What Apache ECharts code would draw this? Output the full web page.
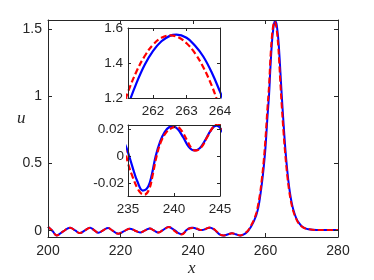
<!DOCTYPE html>
<html>
<head>
<meta charset="utf-8">
<script src="https://cdn.jsdelivr.net/npm/echarts@6/dist/echarts.min.js"></script>
<style>
html,body{margin:0;padding:0;background:#fff;}
#c{width:374px;height:280px;}
</style>
</head>
<body>
<div id="c"></div>
<script>
// Blue (solid) curve
const xBlue = [200,201.2,202.4,204.2,206.1,207.5,208.8,210.2,211.6,212.8,213.9,215.2,216.6,217.8,219.4,221,222.6,224,225.4,226.8,228.1,229.2,230.4,231.8,233.2,234.6,235,235.5,236,236.6,237.2,237.6,238,238.5,239,239.5,239.9,240.4,241,241.6,242.2,242.8,243.4,244,244.6,245,245.8,246.6,247.5,248.4,249.5,250.7,251.8,253,254,255,255.5,256,256.5,257,257.5,258,258.5,259,259.5,260,260.5,261,261.25,261.5,261.75,262,262.25,262.5,262.7,263,263.25,263.5,263.75,264,264.5,265,265.5,266,266.5,267,267.5,268,268.5,269,270,271,272,273,275,280];
const uBlue = [0.03,0.0,-0.035,-0.005,0.022,0.002,-0.018,0.002,0.022,0.003,-0.015,0.003,0.02,0.0,-0.022,-0.003,0.015,0.0,-0.013,0.002,0.017,0.002,-0.013,0.006,0.027,0.01,0.003,-0.008,-0.018,-0.025,-0.022,-0.013,0.0,0.011,0.018,0.0215,0.022,0.02,0.014,0.007,0.0044,0.006,0.012,0.019,0.0225,0.021,0.01,-0.01,-0.03,-0.036,-0.028,-0.02,-0.027,-0.036,-0.028,-0.008,0.01,0.03,0.055,0.085,0.12,0.17,0.25,0.35,0.47,0.62,0.83,1.02,1.158,1.284,1.39,1.469,1.524,1.555,1.562,1.544,1.5,1.437,1.347,1.236,1.0,0.79,0.6,0.45,0.33,0.24,0.175,0.128,0.092,0.066,0.033,0.017,0.01,0.007,0.005,0.005];
// Red (dashed) curve
const xRed = [200,201.2,202.4,204.2,206.1,207.5,208.8,210.2,211.6,212.8,213.9,215.2,216.6,217.8,219.4,221,222.6,224,225.4,226.8,228.1,229.2,230.4,231.8,233.4,234.4,235,235.5,236,236.4,236.8,237.3,237.7,238.1,238.6,239.2,239.8,240.3,240.8,241.4,241.9,242.4,243,243.6,244.2,244.7,245,245.8,246.6,247.5,248.5,249.6,250.8,251.9,253.1,254,255,255.5,256,256.5,257,257.5,258,258.5,259,259.5,260,260.5,261,261.25,261.5,261.75,262,262.25,262.51,262.75,263,263.25,263.5,263.75,264,264.5,265,265.5,266,266.5,267,267.5,268,268.5,269,270,271,272,273,275,280];
const uRed = [0.03,0.0,-0.035,-0.005,0.022,0.002,-0.018,0.002,0.022,0.003,-0.015,0.003,0.02,0.0,-0.022,-0.003,0.015,0.0,-0.013,0.002,0.017,0.002,-0.013,0.006,0.027,0.012,-0.005,-0.015,-0.023,-0.027,-0.028,-0.024,-0.013,0.0,0.011,0.018,0.021,0.0217,0.019,0.012,0.006,0.0042,0.007,0.014,0.021,0.024,0.023,0.012,-0.008,-0.029,-0.036,-0.028,-0.02,-0.027,-0.036,-0.025,-0.004,0.015,0.038,0.063,0.095,0.135,0.2,0.28,0.39,0.52,0.69,0.9,1.09,1.234,1.35,1.44,1.505,1.544,1.558,1.547,1.513,1.456,1.376,1.272,1.145,0.92,0.72,0.55,0.41,0.3,0.22,0.16,0.118,0.086,0.06,0.031,0.016,0.01,0.007,0.005,0.005];

// Tick values
const mainXTicks = [200,220,240,260,280];
const mainYTicks = [0,0.5,1,1.5];
const in1XTicks = [262,263,264];
const in1YTicks = [1.2,1.4,1.6];
const in2XTicks = [235,240,245];
const in2YTicks = [-0.02,0,0.02];

const blueData = xBlue.map((x,i)=>[x,uBlue[i]]);
const redData = xRed.map((x,i)=>[x,uRed[i]]);

const AX = '#262626';
const FONT = 'Liberation Sans';

function xAx(grid, min, max, ticks, pos, showLabel, fs, tl, z, margin){
  return {
    type:'value', gridIndex:grid, min:min, max:max, position:pos, z:z,
    axisLine:{show:true, onZero:false, lineStyle:{color:AX,width:1}},
    axisTick:{show:true, inside:true, length:tl, customValues:ticks, lineStyle:{color:AX}},
    axisLabel:{show:showLabel, customValues:ticks, color:AX, fontFamily:FONT, fontSize:fs, margin:margin,
      formatter:(v)=>String(+v.toFixed(2))},
    splitLine:{show:false}
  };
}
function yAx(grid, min, max, ticks, pos, showLabel, fs, tl, z, margin){
  return {
    type:'value', gridIndex:grid, min:min, max:max, position:pos, z:z,
    axisLine:{show:true, onZero:false, lineStyle:{color:AX,width:1}},
    axisTick:{show:true, inside:true, length:tl, customValues:ticks, lineStyle:{color:AX}},
    axisLabel:{show:showLabel, customValues:ticks, color:AX, fontFamily:FONT, fontSize:fs, margin:margin,
      formatter:(v)=>String(+v.toFixed(2))},
    splitLine:{show:false}
  };
}

const chart = echarts.init(document.getElementById('c'), null, {renderer:'canvas'});
const option = {
  animation:false,
  backgroundColor:'#fff',
  grid:[
    {left:48, top:20, width:290, height:217, show:false, z:1},
    {left:128, top:28, width:92, height:70, show:true, backgroundColor:'#fff', borderWidth:0, z:10},
    {left:128, top:125, width:92, height:71, show:true, backgroundColor:'#fff', borderWidth:0, z:10}
  ],
  xAxis:[
    xAx(0,200,280,mainXTicks,'bottom',true,14,4,3,7),
    xAx(0,200,280,mainXTicks,'top',false,14,4,3,7),
    xAx(1,261.25,264,in1XTicks,'bottom',true,13.5,3,12,6),
    xAx(1,261.25,264,in1XTicks,'top',false,13.5,3,12,6),
    xAx(2,235,245,in2XTicks,'bottom',true,13.5,3,12,6),
    xAx(2,235,245,in2XTicks,'top',false,13.5,3,12,6)
  ],
  yAxis:[
    yAx(0,-0.047,1.569,mainYTicks,'left',true,14,4,3,6),
    yAx(0,-0.047,1.569,mainYTicks,'right',false,14,4,3,6),
    yAx(1,1.2,1.6,in1YTicks,'left',true,13.5,3,12,5),
    yAx(1,1.2,1.6,in1YTicks,'right',false,13.5,3,12,5),
    yAx(2,-0.029,0.023,in2YTicks,'left',true,13.5,3,12,4),
    yAx(2,-0.029,0.023,in2YTicks,'right',false,13.5,3,12,4)
  ],
  series:[
    {type:'line', xAxisIndex:0, yAxisIndex:0, data:blueData, smooth:0.4, showSymbol:false, z:2,
      lineStyle:{color:'#0000ff', width:2}},
    {type:'line', xAxisIndex:0, yAxisIndex:0, data:redData, smooth:0.4, showSymbol:false, z:2,
      lineStyle:{color:'#ff0000', width:2, type:[6,3]}},
    {type:'line', xAxisIndex:2, yAxisIndex:2, data:blueData, smooth:0.4, showSymbol:false, z:11,
      lineStyle:{color:'#0000ff', width:2.2}},
    {type:'line', xAxisIndex:2, yAxisIndex:2, data:redData, smooth:0.4, showSymbol:false, z:11,
      lineStyle:{color:'#ff0000', width:2.2, type:[6,3]}},
    {type:'line', xAxisIndex:4, yAxisIndex:4, data:blueData, smooth:0.4, showSymbol:false, z:11,
      lineStyle:{color:'#0000ff', width:2.2}},
    {type:'line', xAxisIndex:4, yAxisIndex:4, data:redData, smooth:0.4, showSymbol:false, z:11,
      lineStyle:{color:'#ff0000', width:2.2, type:[6,3]}}
  ],
  graphic:[
    {type:'text', left:188, top:260, z:20, style:{text:'x', fill:AX, font:'italic 17px "Liberation Serif"'}},
    {type:'text', left:17, top:110, z:20, style:{text:'u', fill:AX, font:'italic 17px "Liberation Serif"'}}
  ]
};
chart.setOption(option);
</script>
</body>
</html>
